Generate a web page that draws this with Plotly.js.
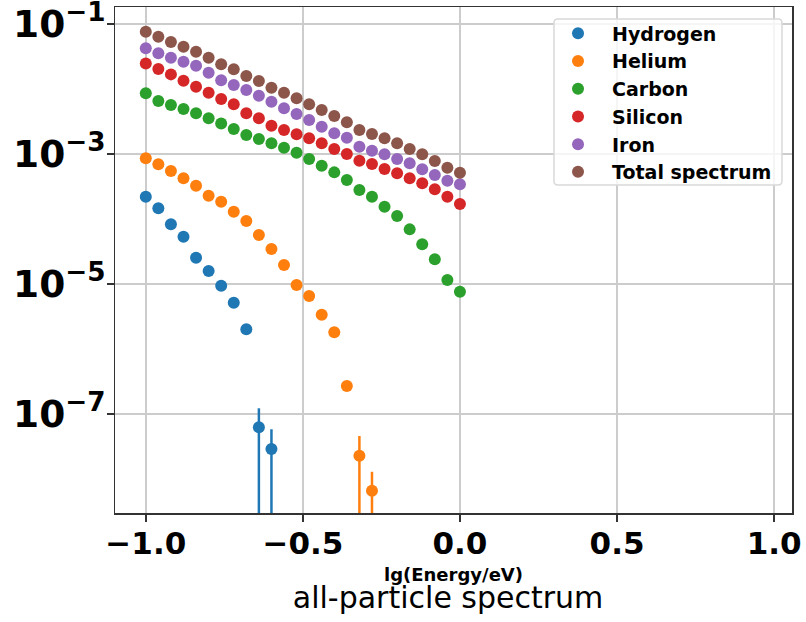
<!DOCTYPE html>
<html>
<head>
<meta charset="utf-8">
<script src="https://cdn.plot.ly/plotly-3.0.1.min.js"></script>
<style>
  html, body { margin: 0; padding: 0; background: #ffffff; }
  #chart { width: 806px; height: 622px; }
</style>
</head>
<body>
<div id="chart"></div>
<script>
// lg(Energy/eV) bin centres
const energy = [-1.00, -0.96, -0.92, -0.88, -0.84, -0.80, -0.76, -0.72, -0.68, -0.64,
                -0.60, -0.56, -0.52, -0.48, -0.44, -0.40, -0.36, -0.32, -0.28, -0.24,
                -0.20, -0.16, -0.12, -0.08, -0.04, 0.00];

// Flux per species
const hydrogen = [2.20e-4, 1.46e-4, 8.28e-5, 5.35e-5, 2.54e-5, 1.58e-5, 9.42e-6, 5.15e-6,
                  2.01e-6, 6.24e-8, 2.90e-8];
const hydrogenErr = [0, 0, 0, 0, 0, 0, 0, 0, 0, 6.0e-8, 2.92e-8];

const helium = [8.59e-4, 6.95e-4, 5.47e-4, 4.23e-4, 3.25e-4, 2.28e-4, 1.85e-4, 1.29e-4,
                9.31e-5, 5.68e-5, 3.45e-5, 1.96e-5, 9.66e-6, 6.53e-6, 3.37e-6, 1.81e-6,
                2.70e-7, 2.28e-8, 6.61e-9];
const heliumErr = [0, 0, 0, 0, 0, 0, 0, 0, 0, 0, 0, 0, 0, 0, 0, 0, 0, 2.31e-8, 6.3e-9];

const carbon = [8.59e-3, 6.53e-3, 5.68e-3, 4.92e-3, 4.23e-3, 3.54e-3, 2.96e-3, 2.43e-3,
                1.96e-3, 1.70e-3, 1.46e-3, 1.25e-3, 1.05e-3, 8.38e-4, 6.61e-4, 5.22e-4,
                3.98e-4, 2.79e-4, 2.20e-4, 1.55e-4, 1.11e-4, 6.93e-5, 4.08e-5, 2.40e-5,
                1.15e-5, 7.62e-6];

const silicon = [2.48e-2, 2.03e-2, 1.68e-2, 1.34e-2, 1.08e-2, 8.77e-3, 7.02e-3, 5.82e-3,
                 4.23e-3, 3.54e-3, 2.73e-3, 2.34e-3, 2.01e-3, 1.75e-3, 1.46e-3, 1.19e-3,
                 1.00e-3, 7.89e-4, 7.02e-4, 5.88e-4, 5.05e-4, 4.23e-4, 3.54e-4, 2.86e-4,
                 2.20e-4, 1.70e-4];

const iron = [4.23e-2, 3.54e-2, 3.03e-2, 2.63e-2, 2.28e-2, 1.78e-2, 1.37e-2, 1.15e-2,
              9.66e-3, 7.89e-3, 6.38e-3, 5.05e-3, 4.12e-3, 3.34e-3, 2.63e-3, 2.08e-3,
              1.78e-3, 1.29e-3, 1.12e-3, 9.89e-4, 8.38e-4, 7.19e-4, 5.82e-4, 4.75e-4,
              3.88e-4, 3.42e-4];

const total = [7.62e-2, 6.38e-2, 5.28e-2, 4.48e-2, 3.75e-2, 3.03e-2, 2.40e-2, 2.01e-2,
               1.58e-2, 1.33e-2, 1.05e-2, 8.77e-3, 7.19e-3, 5.82e-3, 4.75e-3, 3.85e-3,
               3.08e-3, 2.34e-3, 2.03e-3, 1.75e-3, 1.46e-3, 1.19e-3, 9.89e-4, 7.80e-4,
               6.15e-4, 5.15e-4];

const seriesNames = ['Hydrogen', 'Helium', 'Carbon', 'Silicon', 'Iron', 'Total spectrum'];
const seriesColors = ['#1f77b4', '#ff7f0e', '#2ca02c', '#d62728', '#9467bd', '#8c564b'];
const seriesValues = [hydrogen, helium, carbon, silicon, iron, total];
const seriesErrors = [hydrogenErr, heliumErr, null, null, null, null];

const xTickVals = [-1.0, -0.5, 0.0, 0.5, 1.0];

const traces = seriesValues.map((vals, i) => {
  const t = {
    type: 'scatter',
    mode: 'markers',
    name: seriesNames[i],
    x: energy.slice(0, vals.length),
    y: vals,
    marker: { color: seriesColors[i], size: 12, line: { width: 0 } },
    cliponaxis: true
  };
  if (seriesErrors[i]) {
    t.error_y = {
      type: 'data',
      array: seriesErrors[i],
      symmetric: true,
      color: seriesColors[i],
      thickness: 2.5,
      width: 0
    };
  }
  return t;
});

const boldFont = { family: 'DejaVu Sans', weight: 'bold', color: '#000000' };

// Legend frame: semi-transparent box with rounded corners (paper coordinates)
const fx0 = 0.6484, fx1 = 0.9852, fy0 = 0.6482, fy1 = 0.9763;
const rx = 0.0059, ry = 0.0079;
const framePath =
  `M ${fx0 + rx},${fy1} L ${fx1 - rx},${fy1} Q ${fx1},${fy1} ${fx1},${fy1 - ry} ` +
  `L ${fx1},${fy0 + ry} Q ${fx1},${fy0} ${fx1 - rx},${fy0} ` +
  `L ${fx0 + rx},${fy0} Q ${fx0},${fy0} ${fx0},${fy0 + ry} ` +
  `L ${fx0},${fy1 - ry} Q ${fx0},${fy1} ${fx0 + rx},${fy1} Z`;

const layout = {
  width: 806,
  height: 622,
  margin: { l: 115, r: 14, t: 7, b: 109 },
  paper_bgcolor: '#ffffff',
  plot_bgcolor: '#ffffff',
  showlegend: true,
  title: {
    text: 'all-particle spectrum',
    font: { family: 'DejaVu Sans', size: 30, color: '#000000' },
    xref: 'paper',
    x: 0.492,
    xanchor: 'center',
    yref: 'container',
    y: 0.022,
    yanchor: 'bottom'
  },
  xaxis: {
    range: [-1.098, 1.057],
    tickvals: xTickVals,
    tickformat: '.1f',
    ticks: 'outside',
    ticklen: 7,
    tickwidth: 1.5,
    tickcolor: '#333333',
    tickfont: Object.assign({ size: 31 }, boldFont),
    ticklabelstandoff: -5,
    ticklabeloverflow: 'allow',
    showline: true,
    linecolor: '#333333',
    linewidth: 1.5,
    mirror: true,
    showgrid: true,
    gridcolor: '#cccccc',
    gridwidth: 1.5,
    zeroline: false,
    title: {
      text: 'lg(Energy/eV)',
      font: Object.assign({ size: 18 }, boldFont),
      standoff: 8
    }
  },
  yaxis: {
    type: 'log',
    range: [-8.523, -0.738],
    tick0: -1,
    dtick: 2,
    exponentformat: 'power',
    ticks: 'outside',
    ticklen: 7,
    tickwidth: 1.5,
    tickcolor: '#333333',
    tickfont: Object.assign({ size: 30 }, boldFont),
    ticklabelstandoff: -5,
    ticklabeloverflow: 'allow',
    showline: true,
    linecolor: '#333333',
    linewidth: 1.5,
    mirror: true,
    showgrid: true,
    gridcolor: '#cccccc',
    gridwidth: 1.5,
    zeroline: false
  },
  shapes: [{
    type: 'path',
    xref: 'paper',
    yref: 'paper',
    path: framePath,
    fillcolor: 'rgba(255,255,255,0.8)',
    line: { color: '#d9d9d9', width: 1.5 },
    layer: 'above'
  }],
  legend: {
    x: 0.6337,
    y: 0.9852,
    xanchor: 'left',
    yanchor: 'top',
    bgcolor: 'rgba(0,0,0,0)',
    borderwidth: 0,
    itemwidth: 58,
    font: Object.assign({ size: 19 }, boldFont)
  }
};

Plotly.newPlot('chart', traces, layout, { displayModeBar: false, staticPlot: true });
</script>
</body>
</html>
